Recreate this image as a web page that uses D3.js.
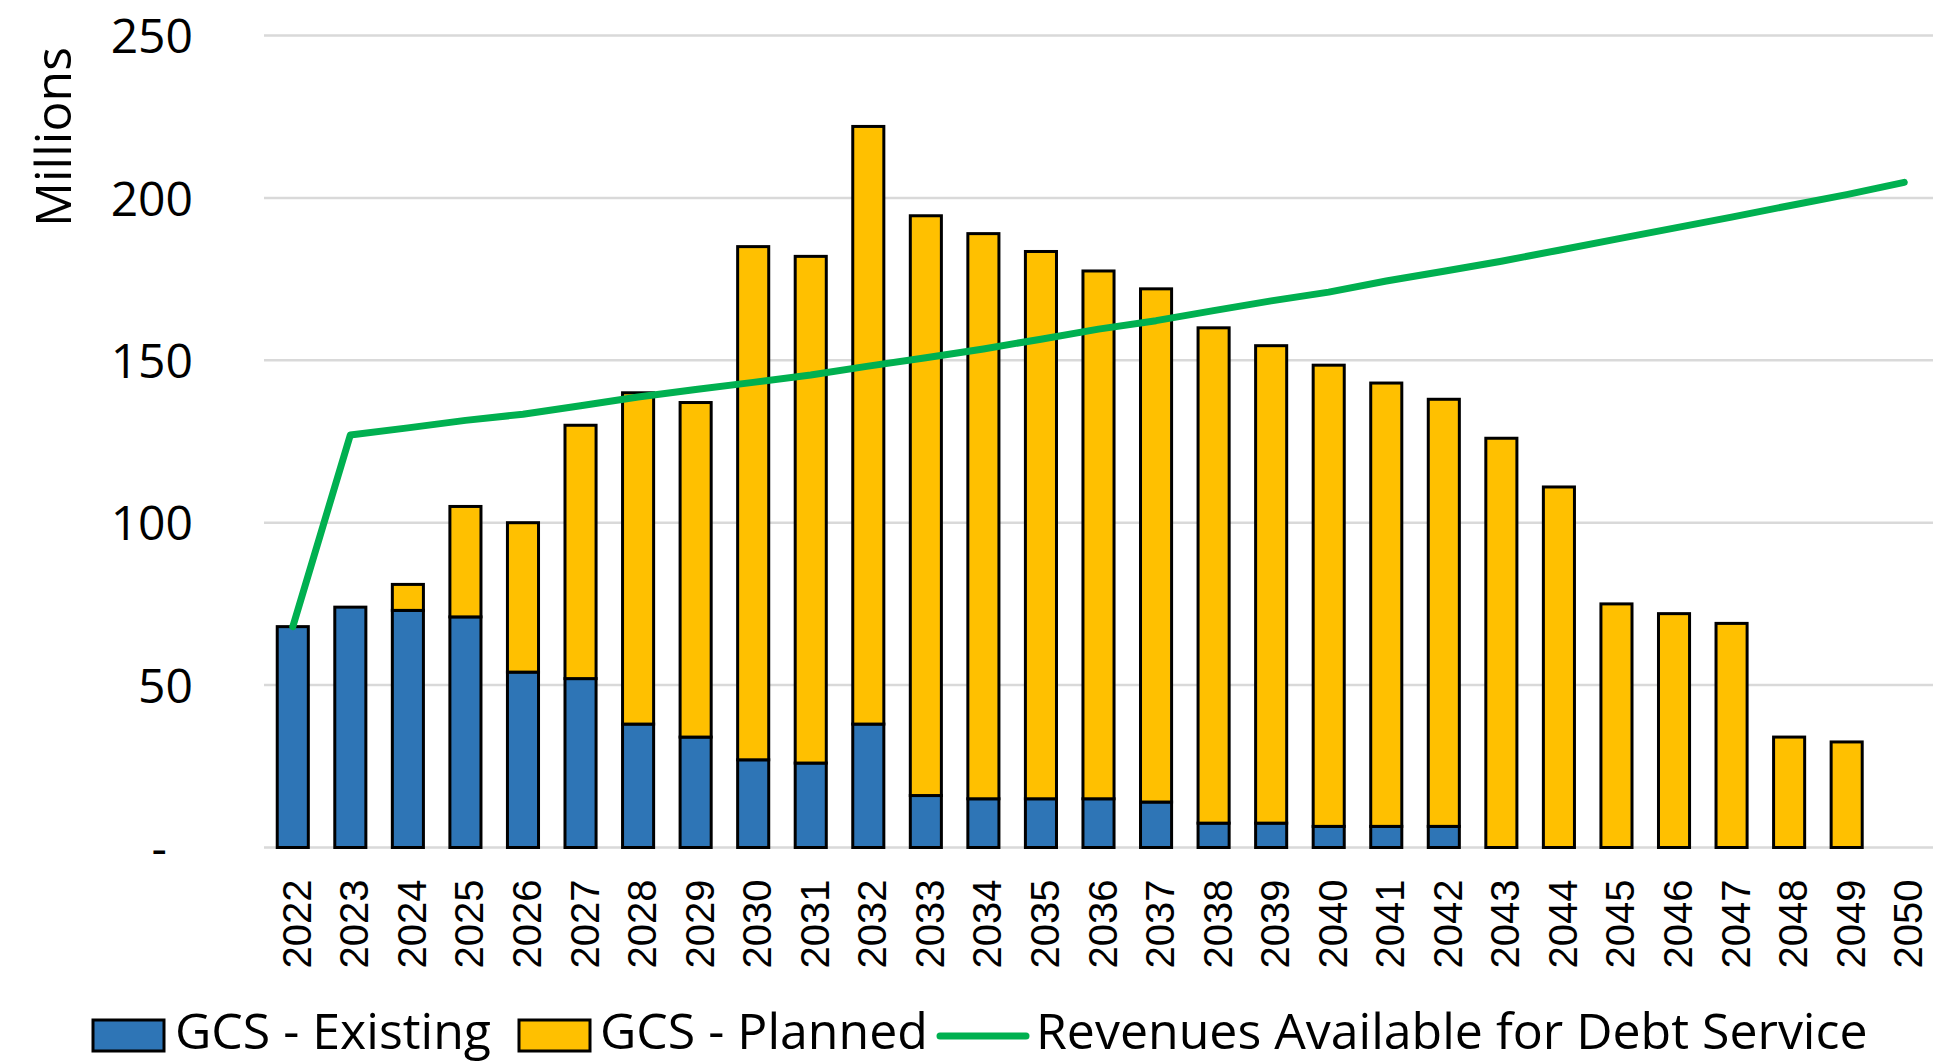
<!DOCTYPE html>
<html>
<head>
<meta charset="utf-8">
<script src="https://cdn.jsdelivr.net/npm/d3@7"></script>
<style>
    html, body { margin: 0; padding: 0; background: #fff; }
    svg { display: block; }
</style>
</head>
<body>
<div id="chart"></div>
<script>
// Chart data (values in millions)
const years = ['2022', '2023', '2024', '2025', '2026', '2027', '2028', '2029', '2030', '2031',
    '2032', '2033', '2034', '2035', '2036', '2037', '2038', '2039', '2040', '2041',
    '2042', '2043', '2044', '2045', '2046', '2047', '2048', '2049', '2050'];

const gcsExisting = [68, 74, 73, 71, 54, 52, 38, 34, 27, 26,
    38, 16, 15, 15, 15, 14, 7.5, 7.5, 6.5, 6.5,
    6.5, 0, 0, 0, 0, 0, 0, 0, 0];

const gcsPlanned = [0, 0, 8, 34, 46, 78, 102, 103, 158, 156,
    184, 178.5, 174, 168.5, 162.5, 158, 152.5, 147, 142, 136.5,
    131.5, 126, 111, 75, 72, 69, 34, 32.5, 0];

const revenues = [68, 127, 129.2, 131.5, 133.4, 136, 138.7, 141, 143.2, 145.5,
    148.2, 150.8, 153.5, 156.5, 159.6, 162.2, 165.3, 168.3, 171, 174.4,
    177.4, 180.5, 183.9, 187.3, 190.7, 194.1, 197.6, 201, 204.8];

const yTicks = [0, 50, 100, 150, 200, 250];

const seriesNames = ['GCS - Existing', 'GCS - Planned', 'Revenues Available for Debt Service'];
const colors = { existing: '#2E75B6', planned: '#FFC000', line: '#00B050', grid: '#d9d9d9' };

const width = 1933;
const height = 1064;
const plot = { left: 264, right: 1933, top: 35.5, bottom: 847.5 };

const uiFont = '"Open Sans", "Noto Sans", sans-serif';

const svg = d3.select('#chart')
    .append('svg')
    .attr('width', width)
    .attr('height', height);

// Scales
const x = d3.scaleBand()
    .domain(years)
    .range([plot.left, plot.right])
    .paddingInner(0.46)
    .paddingOuter(0.23);

const y = d3.scaleLinear()
    .domain([0, 250])
    .range([plot.bottom, plot.top]);

// Gridlines (zero line is the same light grey)
svg.append('g')
    .selectAll('line')
    .data(yTicks)
    .enter()
    .append('line')
    .attr('x1', plot.left)
    .attr('x2', plot.right)
    .attr('y1', d => y(d))
    .attr('y2', d => y(d))
    .attr('stroke', colors.grid)
    .attr('stroke-width', 2.5);

// Y axis labels - zero shown as a dash like accounting format
const yAxis = svg.append('g')
    .attr('transform', 'translate(193,0)')
    .call(d3.axisLeft(y).tickValues(yTicks).tickSize(0).tickPadding(0)
        .tickFormat(d => d === 0 ? '-' : d));
yAxis.select('.domain').remove();
yAxis.selectAll('text')
    .attr('font-family', uiFont)
    .attr('font-size', 48)
    .attr('fill', '#000')
    .attr('dy', '0.36em')
    .attr('x', d => d === 0 ? -26 : 0);

svg.append('text')
    .attr('transform', 'translate(71,137) rotate(-90)')
    .attr('text-anchor', 'middle')
    .attr('font-family', uiFont)
    .attr('font-size', 50)
    .attr('fill', '#000')
    .text('Millions');

// Stacked bars
const rows = years.map((yr, i) => ({ year: yr, existing: gcsExisting[i], planned: gcsPlanned[i] }));
const stack = d3.stack().keys(['existing', 'planned'])(rows);

svg.append('g')
    .selectAll('g')
    .data(stack)
    .enter()
    .append('g')
    .attr('fill', d => colors[d.key])
    .selectAll('rect')
    .data(d => d.filter(s => s[1] - s[0] > 0))
    .enter()
    .append('rect')
    .attr('x', d => x(d.data.year))
    .attr('width', x.bandwidth())
    .attr('y', d => y(d[1]))
    .attr('height', d => y(d[0]) - y(d[1]))
    .attr('stroke', '#000')
    .attr('stroke-width', 3);

// Revenue line
const line = d3.line()
    .x((d, i) => x(years[i]) + x.bandwidth() / 2)
    .y(d => y(d));

svg.append('path')
    .datum(revenues)
    .attr('d', line)
    .attr('fill', 'none')
    .attr('stroke', colors.line)
    .attr('stroke-width', 7)
    .attr('stroke-linecap', 'round')
    .attr('stroke-linejoin', 'round');

// X axis labels, rotated
const xAxis = svg.append('g')
    .attr('transform', `translate(0,${plot.bottom})`)
    .call(d3.axisBottom(x).tickSize(0).tickPadding(0));
xAxis.select('.domain').remove();
xAxis.selectAll('text')
    .attr('font-family', '"Liberation Sans", Arial, sans-serif')
    .attr('font-size', 40)
    .attr('fill', '#000')
    .attr('text-anchor', 'end')
    .attr('transform', 'rotate(-90)')
    .attr('x', -32)
    .attr('y', 0)
    .attr('dy', '0.45em');

// Legend
const legend = svg.append('g').attr('font-family', uiFont).attr('font-size', 50).attr('fill', '#000');
const legendItems = [
    { name: seriesNames[0], kind: 'box', color: colors.existing, x: 93, tx: 175 },
    { name: seriesNames[1], kind: 'box', color: colors.planned, x: 519, tx: 600 },
    { name: seriesNames[2], kind: 'line', color: colors.line, x: 940, tx: 1036 }
];
legendItems.forEach(item => {
    if (item.kind === 'box') {
        legend.append('rect')
            .attr('x', item.x)
            .attr('y', 1020)
            .attr('width', 71)
            .attr('height', 31)
            .attr('fill', item.color)
            .attr('stroke', '#000')
            .attr('stroke-width', 3);
    } else {
        legend.append('line')
            .attr('x1', item.x)
            .attr('x2', item.x + 86)
            .attr('y1', 1036)
            .attr('y2', 1036)
            .attr('stroke', item.color)
            .attr('stroke-width', 7)
            .attr('stroke-linecap', 'round');
    }
    legend.append('text')
        .attr('x', item.tx)
        .attr('y', 1049)
        .text(item.name);
});
</script>
</body>
</html>
